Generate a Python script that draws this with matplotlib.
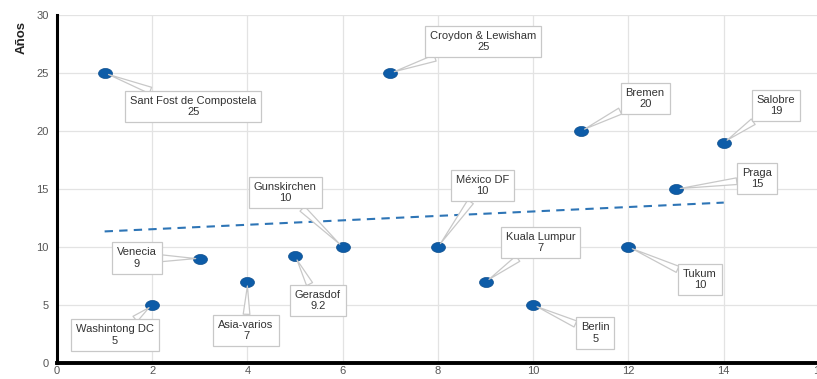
import numpy as np
import matplotlib.pyplot as plt
from matplotlib.path import Path

# cities, x position and value (años)
cities = ['Sant Fost de Compostela', 'Washintong DC', 'Venecia', 'Asia-varios',
          'Gerasdof', 'Gunskirchen', 'Croydon & Lewisham', 'México DF',
          'Kuala Lumpur', 'Berlin', 'Bremen', 'Tukum', 'Praga', 'Salobre']
xs = [1, 2, 3, 4, 5, 6, 7, 8, 9, 10, 11, 12, 13, 14]
years = [25, 5, 9, 7, 9.2, 10, 25, 10, 7, 5, 20, 10, 15, 19]
value_labels = ['25', '5', '9', '7', '9.2', '10', '25', '10', '7', '5', '20', '10', '15', '19']

# where each callout box sits
label_pos = [(2.86, 22.1), (1.22, 2.4), (1.68, 9.05), (3.97, 2.8),
             (5.48, 5.4), (4.79, 14.7), (8.95, 27.7), (8.93, 15.3),
             (10.15, 10.4), (11.3, 2.6), (12.35, 22.8), (13.5, 7.2),
             (14.7, 15.9), (15.1, 22.2)]

plt.rcParams['font.family'] = ['Liberation Sans', 'DejaVu Sans']

fig = plt.figure(figsize=(8.17, 3.79), dpi=100)
ax = fig.add_axes([57 / 817, 16 / 379, 762 / 817, 348 / 379])

ax.set_xlim(0, 16)
ax.set_ylim(0, 30)
ax.set_xticks(range(0, 17, 2))
ax.set_yticks(range(0, 31, 5))
ax.grid(True, color='#e3e3e3', linewidth=0.9)
ax.set_axisbelow(True)
for s in ['top', 'right']:
    ax.spines[s].set_visible(False)
ax.spines['left'].set_linewidth(2.2)
ax.spines['bottom'].set_linewidth(2.8)
ax.tick_params(length=0, labelsize=8, colors='#555555', pad=6)
ax.tick_params(axis='x', pad=2.5)

ax.set_ylabel('Años', fontsize=9.5, fontweight='bold', color='#222222')
ax.yaxis.set_label_coords(-0.038, 0.935)

# linear trend
coef = np.polyfit(xs, years, 1)
tx = np.array([min(xs), max(xs)])
ax.plot(tx, np.polyval(coef, tx), linestyle=(0, (4, 3)), color='#2e75b6', linewidth=1.5, zorder=2)

# slightly flattened round marker
t = np.linspace(0, 2 * np.pi, 40)
ellipse = Path(np.column_stack([np.cos(t), 0.72 * np.sin(t)]))
ax.scatter(xs, years, marker=ellipse, s=100, color='#0d5ca8', edgecolor='#0a4c8c',
           linewidth=0.5, zorder=4)

for name, x, y, v, (lx, ly) in zip(cities, xs, years, value_labels, label_pos):
    ax.annotate(f'{name}\n{v}', xy=(x, y), xytext=(lx, ly),
                ha='center', va='center', fontsize=8, color='#333333',
                linespacing=1.2, zorder=5,
                bbox=dict(boxstyle='square,pad=0.45', fc='white', ec='#c8c8c8', lw=0.9),
                arrowprops=dict(arrowstyle='wedge,tail_width=0.6,shrink_factor=0.5',
                                fc='white', ec='#c8c8c8', lw=0.9, shrinkA=0, shrinkB=3),
                annotation_clip=False)

fig.savefig('out.png', dpi=100)
